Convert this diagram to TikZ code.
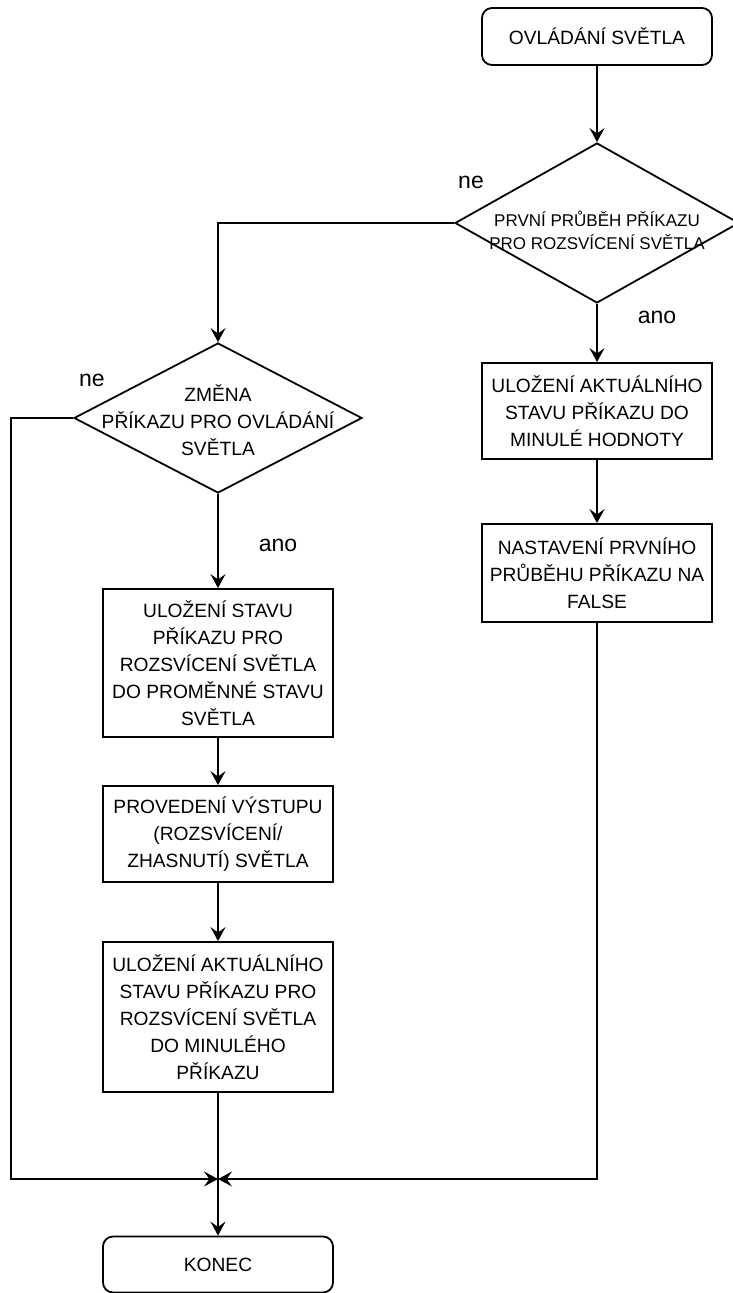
\documentclass[tikz,border=0pt]{standalone}
\usepackage{fontspec}
\setmainfont{Liberation Sans}
\usetikzlibrary{shapes.geometric,
  arrows.meta
}
\tikzset{>={Stealth[length=7pt,width=7.5pt,inset=2.7pt]}}

\begin{document}
\begin{tikzpicture}[x=0.5pt,y=-0.5pt,
  flowline/.style={line width=0.9pt,->},
  boxtext/.style={font=\fontsize{9.6}{13.5}\selectfont,align=center},
  process/.style={draw,line width=0.9pt,minimum width=115pt,inner sep=0pt,boxtext},
  terminal/.style={process,rounded corners=5pt,minimum height=28.5pt},
  decision/.style={draw,diamond,line width=0.9pt,inner sep=0pt},
  answer/.style={font=\fontsize{11.5}{13}\selectfont}]
  \useasboundingbox (0,0) rectangle (732,1293);

  % Start and first test
  \node[terminal] (start) at (597,36.5) {OVLÁDÁNÍ SVĚTLA};
  \node[decision,minimum width=142pt,minimum height=80pt] (first) at (597,223) {};
  \node[font=\fontsize{8.5}{11.5}\selectfont,align=center] (firsttext) at (597,230)
    {PRVNÍ PRŮBĚH PŘÍKAZU\\PRO ROZSVÍCENÍ SVĚTLA};

  % Right branch
  \node[process,minimum height=48pt] (storelast) at (597,411)
    {ULOŽENÍ AKTUÁLNÍHO\\STAVU PŘÍKAZU DO\\MINULÉ HODNOTY};
  \node[process,minimum height=49pt] (resetfirst) at (597,573)
    {NASTAVENÍ PRVNÍHO\\PRŮBĚHU PŘÍKAZU NA\\FALSE};

  % Left branch
  \node[decision,minimum width=144pt,minimum height=75pt] (change) at (218,418) {};
  \node[boxtext] (changetext) at (218,420) {ZMĚNA\\PŘÍKAZU PRO OVLÁDÁNÍ\\SVĚTLA};
  \node[process,minimum height=74pt] (storestate) at (218,663)
    {ULOŽENÍ STAVU\\PŘÍKAZU PRO\\ROZSVÍCENÍ SVĚTLA\\DO PROMĚNNÉ STAVU\\SVĚTLA};
  \node[process,minimum height=48pt] (output) at (218,834)
    {PROVEDENÍ VÝSTUPU\\(ROZSVÍCENÍ/\\ZHASNUTÍ) SVĚTLA};
  \node[process,minimum height=75pt] (storecmd) at (218,1017)
    {ULOŽENÍ AKTUÁLNÍHO\\STAVU PŘÍKAZU PRO\\ROZSVÍCENÍ SVĚTLA\\DO MINULÉHO\\PŘÍKAZU};
  \node[terminal,minimum height=28pt] (finish) at (218,1264.5) {KONEC};
  \coordinate (merge) at (218,1179);

  % Answers
  \node[answer] (firstno) at (471,182) {ne};
  \node[answer] (firstyes) at (657,317) {ano};
  \node[answer] (changeno) at (92,380) {ne};
  \node[answer] (changeyes) at (278,545) {ano};

  % Connectors
  \draw[flowline] (start) -- (first);
  \draw[flowline] (first.west) -| (change.north);
  \draw[flowline] (first) -- (storelast);
  \draw[flowline] (storelast) -- (resetfirst);
  \draw[flowline] (resetfirst.south) |- (merge);
  \draw[flowline] (change.west) -- ++(-62,0) |- (merge);
  \draw[flowline] (change) -- (storestate);
  \draw[flowline] (storestate) -- (output);
  \draw[flowline] (output) -- (storecmd);
  \draw[flowline] (storecmd) -- (finish);
\end{tikzpicture}
\end{document}
